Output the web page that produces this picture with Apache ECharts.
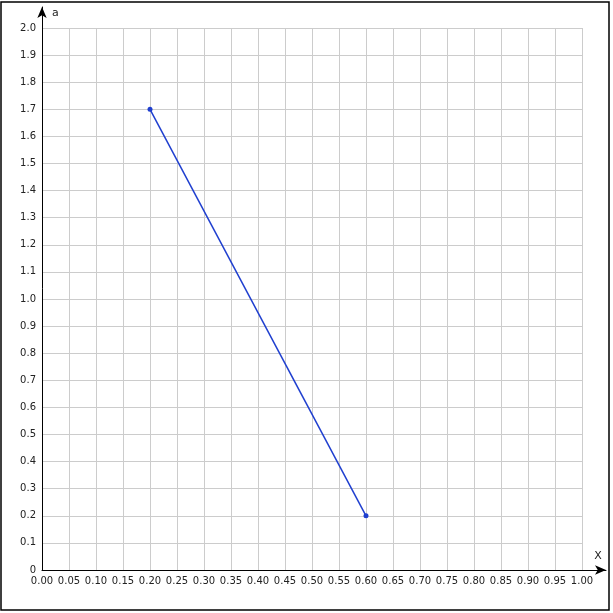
<!DOCTYPE html>
<html><head><meta charset="utf-8">
<script src="https://cdn.jsdelivr.net/npm/echarts@6/dist/echarts.min.js"></script>
<style>html,body{margin:0;padding:0;background:#fff}#c{width:613px;height:613px}</style>
</head><body><div id="c"></div>
<script>
const xName = 'X';
const yName = 'a';
const xs = [0.2, 0.6];
const ys = [1.7, 0.2];
const xMin = 0, xMax = 1, xStep = 0.05;
const yMin = 0, yMax = 2, yStep = 0.1;

const font = 'DejaVu Sans';
const chart = echarts.init(document.getElementById('c'), null, {renderer: 'canvas'});
chart.setOption({
  animation: false,
  backgroundColor: '#fff',
  graphic: [{
    type: 'rect', shape: {x: 1, y: 2, width: 608, height: 608},
    style: {fill: 'none', stroke: '#000', lineWidth: 1.5}, z: 100
  }],
  grid: [
    {left: 42, top: 28, right: 31, bottom: 43},
    {left: 42, top: 7, right: 7, bottom: 43}
  ],
  xAxis: [{
    gridIndex: 0, type: 'value', min: xMin, max: xMax, interval: xStep,
    axisLine: {show: false}, axisTick: {show: false},
    axisLabel: {color: '#222', fontFamily: font, fontSize: 10, margin: 6,
      formatter: v => v.toFixed(2)},
    splitLine: {show: true, lineStyle: {color: '#cccccc', width: 1}}
  }, {
    gridIndex: 1, type: 'value', min: 0, max: 1,
    axisLine: {show: true, lineStyle: {color: '#000', width: 1}, symbol: ['none', 'arrow'], symbolSize: [7, 11]},
    axisTick: {show: false}, axisLabel: {show: false}, splitLine: {show: false},
    name: xName, nameLocation: 'end', nameGap: -8,
    nameTextStyle: {color: '#222', fontFamily: font, fontSize: 11, align: 'center', verticalAlign: 'bottom', padding: [0, 0, 8, 0]}
  }],
  yAxis: [{
    gridIndex: 0, type: 'value', min: yMin, max: yMax, interval: yStep,
    axisLine: {show: false}, axisTick: {show: false},
    axisLabel: {color: '#222', fontFamily: font, fontSize: 10, margin: 6,
      formatter: v => (v === 0 ? '0' : v.toFixed(1))},
    splitLine: {show: true, lineStyle: {color: '#cccccc', width: 1}}
  }, {
    gridIndex: 1, type: 'value', min: 0, max: 1,
    axisLine: {show: true, lineStyle: {color: '#000', width: 1}, symbol: ['none', 'arrow'], symbolSize: [7, 11]},
    axisTick: {show: false}, axisLabel: {show: false}, splitLine: {show: false},
    name: yName, nameLocation: 'end', nameGap: -12,
    nameTextStyle: {color: '#222', fontFamily: font, fontSize: 11, align: 'left', verticalAlign: 'bottom', padding: [0, 0, 0, 10]}
  }],
  series: [{
    type: 'line', xAxisIndex: 0, yAxisIndex: 0,
    data: xs.map((x, i) => [x, ys[i]]),
    symbol: 'circle', symbolSize: 5, showSymbol: true,
    lineStyle: {color: '#1f3fcf', width: 1.5},
    itemStyle: {color: '#1f3fcf'}
  }]
});
</script></body></html>
